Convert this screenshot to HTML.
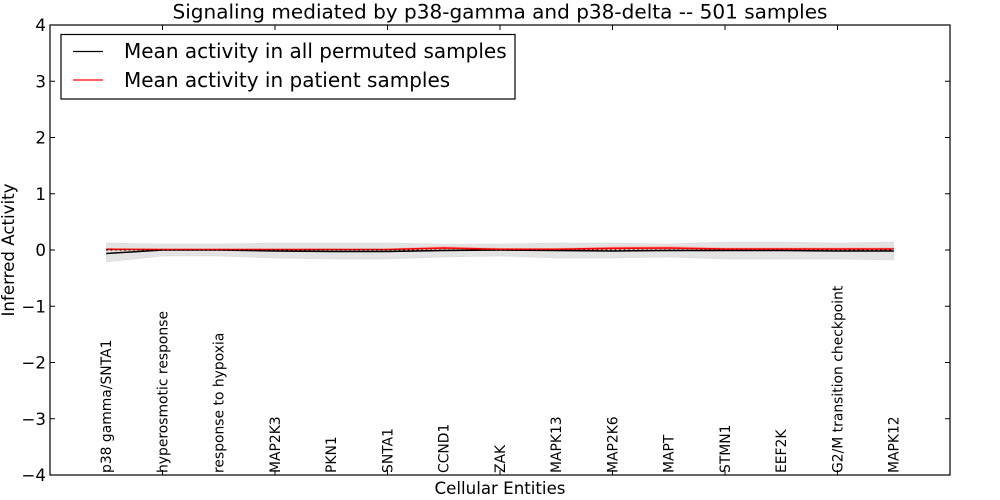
<!DOCTYPE html>
<html><head><meta charset="utf-8"><style>
html,body{margin:0;padding:0;background:#fff;}
svg{display:block;}
text{font-family:"DejaVu Sans","Liberation Sans",sans-serif;fill:#000;}
</style></head><body>
<svg width="1000" height="500" viewBox="0 0 1000 500" xmlns="http://www.w3.org/2000/svg">
<rect width="1000" height="500" fill="#fff"/>
<!-- gray band -->
<polygon fill="#e3e3e3" stroke="#d8d8d8" stroke-width="0.5" points="106.25,243 162.5,244 218.75,244 275,243 331.25,243 387.5,243 443.75,244 500,244 556.25,243 612.5,243 668.75,244 725,242 781.25,242 837.5,243 893.75,242 893.75,260 837.5,259 781.25,259 725,259 668.75,257 612.5,258 556.25,258 500,256 443.75,257 387.5,259 331.25,259 275,258 218.75,256 162.5,256 106.25,262"/>
<!-- red light band -->
<polygon fill="#f7b0b0" opacity="0.8" points="106.25,248 162.5,248.5 218.75,248.5 275,248.5 331.25,248.5 387.5,248.5 443.75,246 500,248 556.25,248 612.5,246.5 668.75,246 725,247.5 781.25,247.5 837.5,247.5 893.75,247.5 893.75,250.5 837.5,250.5 781.25,250.5 725,250.5 668.75,250 612.5,250 556.25,250.5 500,250.5 443.75,250 387.5,250.5 331.25,250.5 275,250.5 218.75,250.5 162.5,250.5 106.25,250.5"/>
<!-- black mean line -->
<polyline fill="none" stroke="#000" stroke-width="1.5" points="106.25,253.5 162.5,250 218.75,250 275,251 331.25,251.5 387.5,251.5 443.75,250.5 500,250 556.25,250.5 612.5,251 668.75,250.5 725,250.5 781.25,250.5 837.5,251 893.75,251"/>
<!-- red patient line -->
<polyline fill="none" stroke="#ff0000" stroke-width="1.6" points="106.25,249.3 162.5,249.5 218.75,249.5 275,249.5 331.25,249.5 387.5,249.5 443.75,248 500,249.3 556.25,249.3 612.5,248.3 668.75,248 725,249 781.25,249 837.5,249 893.75,249"/>
<!-- dotted zero line -->
<line x1="106.25" y1="250" x2="893.75" y2="250" stroke="#000" stroke-width="1.2" stroke-dasharray="1.5,3"/>
<!-- axes box -->
<rect x="50" y="25" width="900" height="450" fill="none" stroke="#000" stroke-width="1.2"/>
<!-- y ticks -->
<g stroke="#000" stroke-width="1">
<line x1="50" y1="25" x2="55" y2="25"/><line x1="945" y1="25" x2="950" y2="25"/>
<line x1="50" y1="81.25" x2="55" y2="81.25"/><line x1="945" y1="81.25" x2="950" y2="81.25"/>
<line x1="50" y1="137.5" x2="55" y2="137.5"/><line x1="945" y1="137.5" x2="950" y2="137.5"/>
<line x1="50" y1="193.75" x2="55" y2="193.75"/><line x1="945" y1="193.75" x2="950" y2="193.75"/>
<line x1="50" y1="250" x2="55" y2="250"/><line x1="945" y1="250" x2="950" y2="250"/>
<line x1="50" y1="306.25" x2="55" y2="306.25"/><line x1="945" y1="306.25" x2="950" y2="306.25"/>
<line x1="50" y1="362.5" x2="55" y2="362.5"/><line x1="945" y1="362.5" x2="950" y2="362.5"/>
<line x1="50" y1="418.75" x2="55" y2="418.75"/><line x1="945" y1="418.75" x2="950" y2="418.75"/>
<!-- x ticks -->
<line x1="162.5" y1="25" x2="162.5" y2="30"/><line x1="162.5" y1="470" x2="162.5" y2="475"/>
<line x1="275" y1="25" x2="275" y2="30"/><line x1="275" y1="470" x2="275" y2="475"/>
<line x1="387.5" y1="25" x2="387.5" y2="30"/><line x1="387.5" y1="470" x2="387.5" y2="475"/>
<line x1="500" y1="25" x2="500" y2="30"/><line x1="500" y1="470" x2="500" y2="475"/>
<line x1="612.5" y1="25" x2="612.5" y2="30"/><line x1="612.5" y1="470" x2="612.5" y2="475"/>
<line x1="725" y1="25" x2="725" y2="30"/><line x1="725" y1="470" x2="725" y2="475"/>
<line x1="837.5" y1="25" x2="837.5" y2="30"/><line x1="837.5" y1="470" x2="837.5" y2="475"/>
</g>
<!-- y tick labels -->
<g font-size="16.67" text-anchor="end">
<text x="46" y="31">4</text>
<text x="46" y="87.25">3</text>
<text x="46" y="143.5">2</text>
<text x="46" y="199.75">1</text>
<text x="46" y="256">0</text>
<text x="46" y="312.25">−1</text>
<text x="46" y="368.5">−2</text>
<text x="46" y="424.75">−3</text>
<text x="46" y="481">−4</text>
</g>
<!-- x tick labels (rotated) -->
<g font-size="13.9">
<text transform="translate(111,473) rotate(-90)">p38 gamma/SNTA1</text>
<text transform="translate(167.25,473) rotate(-90)">hyperosmotic response</text>
<text transform="translate(223.5,473) rotate(-90)">response to hypoxia</text>
<text transform="translate(279.75,473) rotate(-90)">MAP2K3</text>
<text transform="translate(336,473) rotate(-90)">PKN1</text>
<text transform="translate(392.25,473) rotate(-90)">SNTA1</text>
<text transform="translate(448.5,473) rotate(-90)">CCND1</text>
<text transform="translate(504.75,473) rotate(-90)">ZAK</text>
<text transform="translate(561,473) rotate(-90)">MAPK13</text>
<text transform="translate(617.25,473) rotate(-90)">MAP2K6</text>
<text transform="translate(673.5,473) rotate(-90)">MAPT</text>
<text transform="translate(729.75,473) rotate(-90)">STMN1</text>
<text transform="translate(786,473) rotate(-90)">EEF2K</text>
<text transform="translate(842.25,473) rotate(-90)">G2/M transition checkpoint</text>
<text transform="translate(898.5,473) rotate(-90)">MAPK12</text>
</g>
<!-- axis labels -->
<text x="500" y="494" font-size="16.67" text-anchor="middle">Cellular Entities</text>
<text transform="translate(14,250) rotate(-90)" font-size="16.67" text-anchor="middle">Inferred Activity</text>
<!-- title -->
<text x="500" y="18.5" font-size="19.5" text-anchor="middle" textLength="655" lengthAdjust="spacingAndGlyphs">Signaling mediated by p38-gamma and p38-delta -- 501 samples</text>
<!-- legend -->
<rect x="61" y="34.5" width="454" height="64.5" fill="#fff" stroke="#000" stroke-width="1.2"/>
<line x1="73" y1="51.5" x2="103" y2="51.5" stroke="#000" stroke-width="1.2"/>
<line x1="73" y1="80" x2="103" y2="80" stroke="#ff0000" stroke-width="1.2"/>
<text x="124" y="58" font-size="20">Mean activity in all permuted samples</text>
<text x="124" y="87" font-size="20">Mean activity in patient samples</text>
</svg>
</body></html>
